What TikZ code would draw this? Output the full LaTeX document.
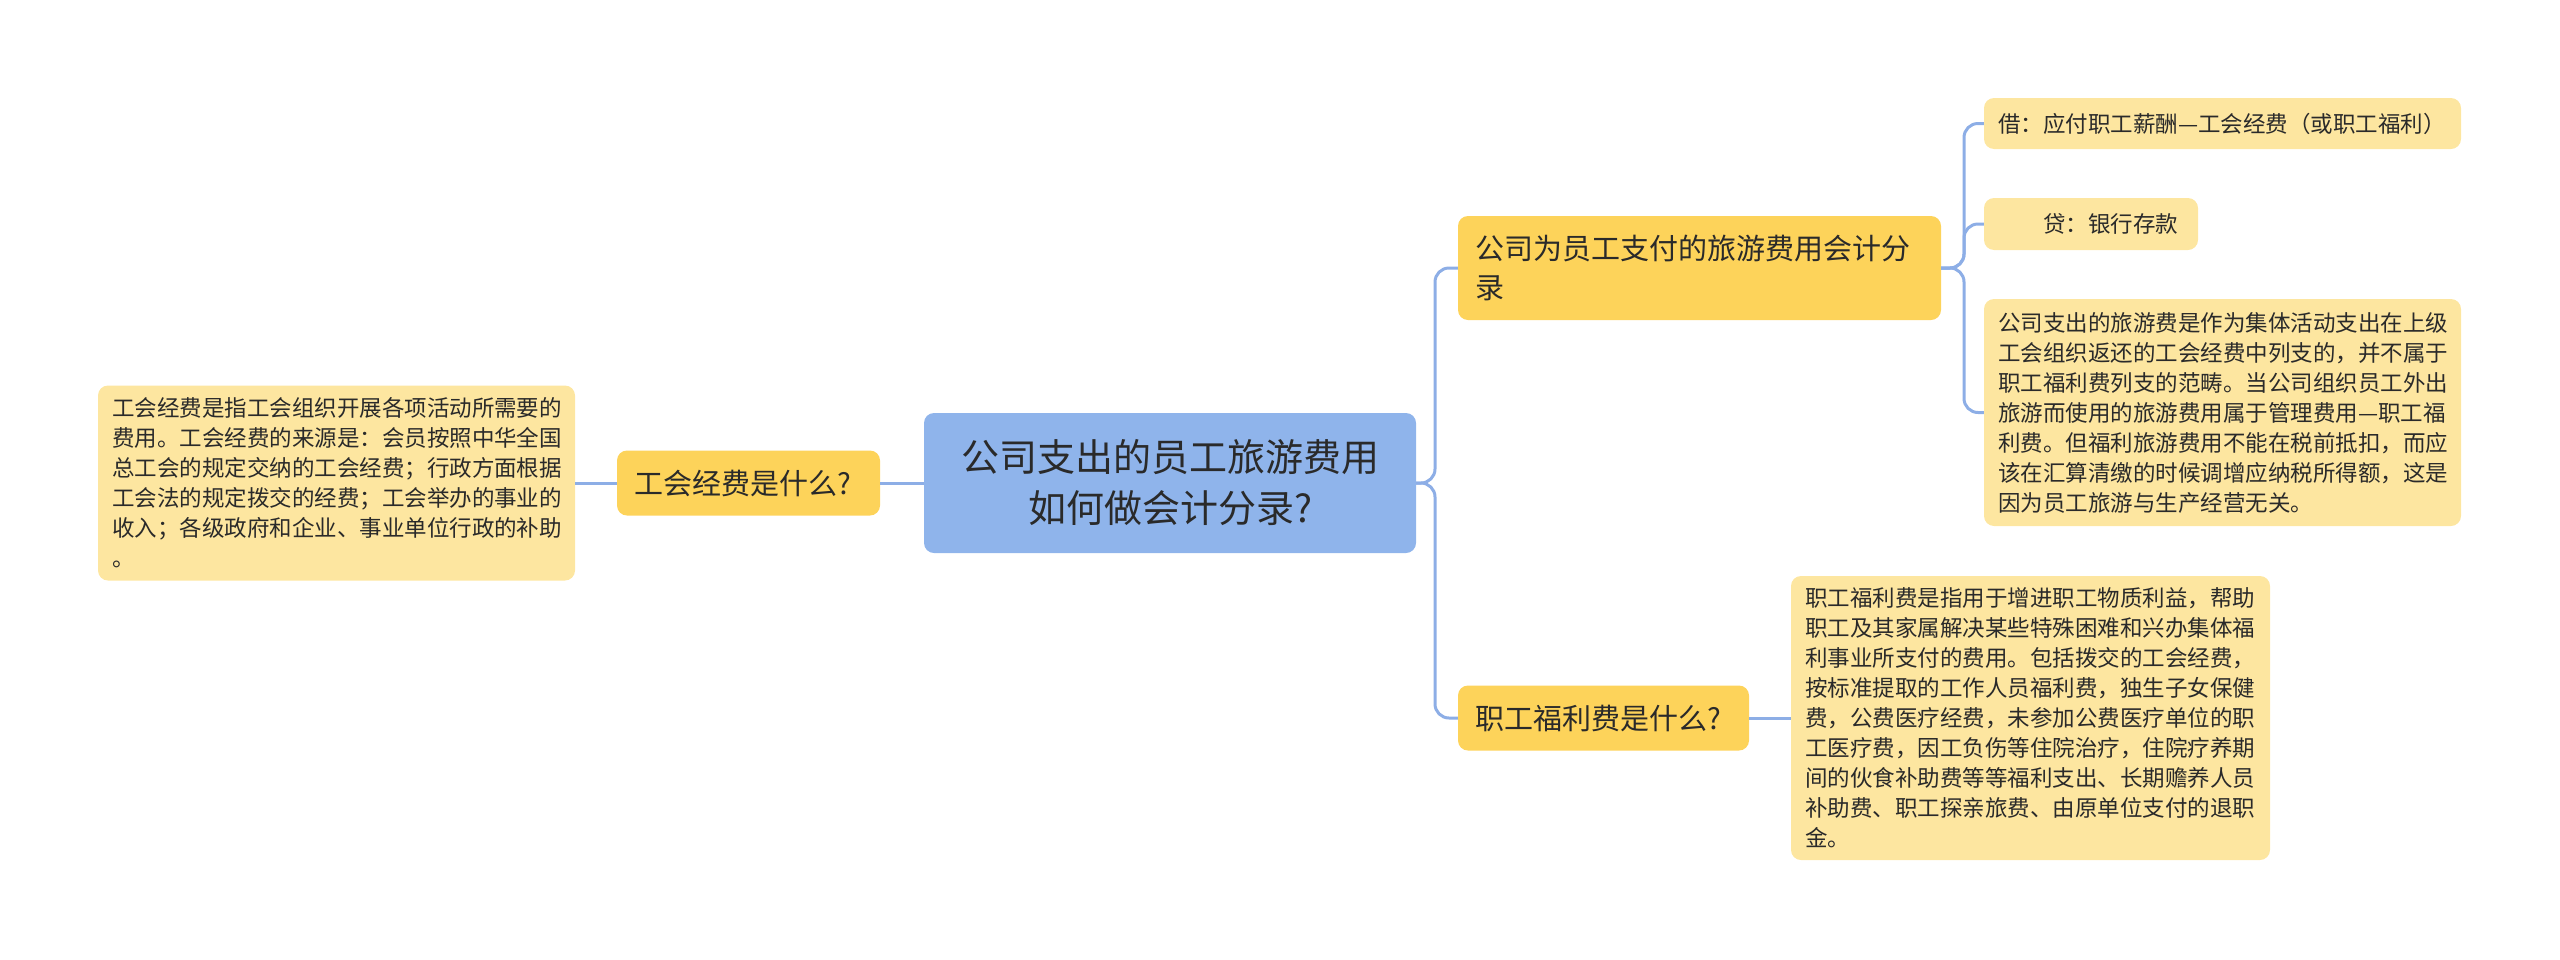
\documentclass[tikz,border=0pt]{standalone}
\usepackage{fontspec}
\setmainfont{Noto Sans CJK SC}
\definecolor{rootc}{HTML}{8FB4EB}
\definecolor{midc}{HTML}{FDD35A}
\definecolor{leafc}{HTML}{FDE6A0}
\definecolor{linec}{HTML}{8DAEE6}
\definecolor{txt}{HTML}{2A2A2A}
\begin{document}
\begin{tikzpicture}[x=1pt,y=-1pt,
  box/.style={rounded corners=10pt, inner ysep=0pt, text=txt},
  rootbox/.style={box, fill=rootc, inner xsep=0pt, align=center, font=\fontsize{38}{51}\selectfont},
  midbox/.style={box, fill=midc, inner xsep=17pt, align=left, font=\fontsize{29}{39}\selectfont},
  leafbox/.style={box, fill=leafc, inner xsep=14pt, align=left, font=\fontsize{22.5}{30}\selectfont},
  conn/.style={draw=linec, line width=3pt, rounded corners=14pt}]
\useasboundingbox (0,0) rectangle (2560,959);

\node[rootbox, minimum width=492pt, minimum height=140pt] (root) at (1170,483)
  {公司支出的员工旅游费用\\如何做会计分录?};

\node[midbox, text width=229pt, minimum height=65pt] (lq) at (748.5,483) {工会经费是什么?};
\node[leafbox, text width=449pt, minimum height=195pt] (ll) at (336.5,483)
  {工会经费是指工会组织开展各项活动所需要的\\费用。工会经费的来源是：会员按照中华全国\\总工会的规定交纳的工会经费；行政方面根据\\工会法的规定拨交的经费；工会举办的事业的\\收入；各级政府和企业、事业单位行政的补助\\。};

\node[midbox, text width=449pt, minimum height=104pt] (r1) at (1699.5,268)
  {公司为员工支付的旅游费用会计分\\录};
\node[midbox, text width=257pt, minimum height=65pt] (r2) at (1603.5,718) {职工福利费是什么?};

\node[leafbox, text width=449pt, minimum height=51pt] (la) at (2222.5,123.5)
  {借：应付职工薪酬—工会经费（或职工福利）};
\node[leafbox, text width=186pt, minimum height=52pt] (lb) at (2091,224)
  {\hspace*{45pt}贷：银行存款};
\node[leafbox, text width=449pt, minimum height=227pt] (lc) at (2222.5,412.5)
  {公司支出的旅游费是作为集体活动支出在上级\\工会组织返还的工会经费中列支的，并不属于\\职工福利费列支的范畴。当公司组织员工外出\\旅游而使用的旅游费用属于管理费用—职工福\\利费。但福利旅游费用不能在税前抵扣，而应\\该在汇算清缴的时候调增应纳税所得额，这是\\因为员工旅游与生产经营无关。};
\node[leafbox, text width=451pt, minimum height=284pt] (ld) at (2030.5,718)
  {职工福利费是指用于增进职工物质利益，帮助\\职工及其家属解决某些特殊困难和兴办集体福\\利事业所支付的费用。包括拨交的工会经费，\\按标准提取的工作人员福利费，独生子女保健\\费，公费医疗经费，未参加公费医疗单位的职\\工医疗费，因工负伤等住院治疗，住院疗养期\\间的伙食补助费等等福利支出、长期赡养人员\\补助费、职工探亲旅费、由原单位支付的退职\\金。};

\coordinate (b1) at (1435,483);
\coordinate (b2) at (1964,268);

\draw[conn] (root.west) -- (lq.east);
\draw[conn] (lq.west) -- (ll.east);
\draw[conn] (root.east) -- (b1) |- (r1.west);
\draw[conn] (root.east) -- (b1) |- (r2.west);
\draw[conn] (r2.east) -- (ld.west);
\draw[conn] (r1.east) -- (b2) |- (la.west);
\draw[conn] (r1.east) -- (b2) |- (lb.west);
\draw[conn] (r1.east) -- (b2) |- (lc.west);
\end{tikzpicture}
\end{document}
